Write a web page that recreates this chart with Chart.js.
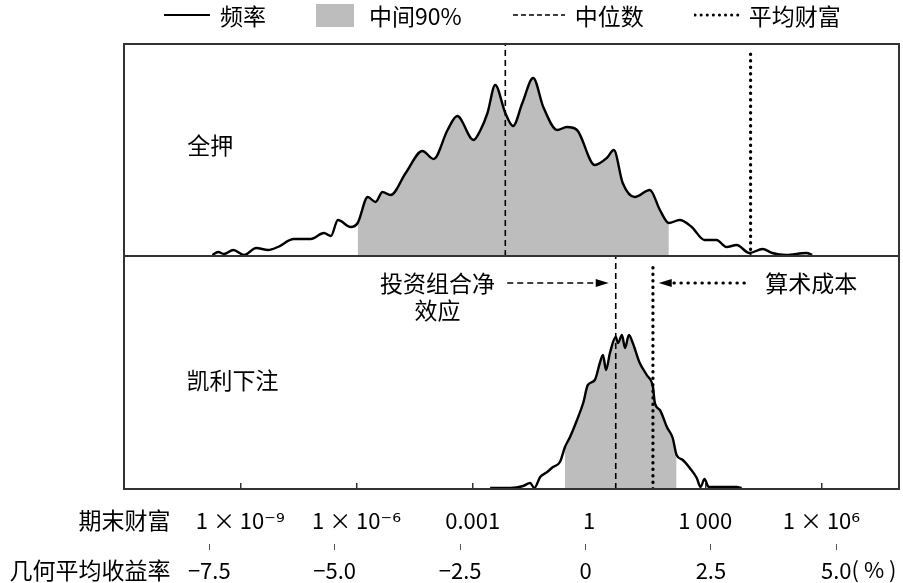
<!DOCTYPE html>
<html>
<head>
<meta charset="utf-8">
<script src="https://cdn.jsdelivr.net/npm/chart.js@4.4.1/dist/chart.umd.min.js"></script>
<style>
  html, body { margin: 0; padding: 0; background: #fff; }
  #wrap { position: relative; width: 903px; height: 583px; }
  #legend { position: absolute; left: 163px; top: 1px; height: 28px; display: flex; align-items: center;
            gap: 50px; font: 23px 'Noto Sans CJK SC', sans-serif; color: #000; }
  .item { display: flex; align-items: center; }
  .item svg { margin-right: 9px; }
</style>
</head>
<body>
<div id="wrap">
  <canvas id="chart" width="903" height="583"></canvas>
  <div id="legend"></div>
</div>
<script>
// x axis: log10 of terminal wealth; second axis: geometric mean return (%)
const wealthTicks = [-9, -6, -3, 0, 3, 6];
const wealthLabels = ['1 × 10⁻⁹', '1 × 10⁻⁶', '0.001', '1', '1 000', '1 × 10⁶'];
const returnTicks = [-7.5, -5, -2.5, 0, 2.5, 5];
const returnLabels = ['−7.5', '−5.0', '−2.5', '0', '2.5', '5.0'];

// 全押 (all in)
const allInX = [-9.72, -9.57, -9.42, -9.18, -8.90, -8.59, -8.28, -8.03, -7.62, -7.18, -6.84, -6.66,
  -6.48, -6.15, -5.97, -5.71, -5.51, -5.33, -5.12, -4.73, -4.30, -4.01, -3.65, -3.40, -2.98, -2.80,
  -2.62, -2.42, -2.16, -1.96, -1.72, -1.44, -1.18, -0.82, -0.57, -0.31, 0.15, 0.46, 0.64, 0.87,
  1.18, 1.57, 1.83, 2.06, 2.34, 2.65, 2.98, 3.29, 3.55, 3.81, 4.14, 4.48, 4.73, 5.09, 5.61, 5.76];
const allInFreq = [1, 4, 2, 6, 1, 8, 6, 9, 17, 17, 23, 20,
  36, 29, 33, 59, 54, 64, 61, 83, 105, 97, 126, 140, 116, 126,
  143, 171, 143, 130, 153, 178, 149, 126, 129, 126, 91, 98, 106, 73,
  59, 66, 46, 33, 36, 29, 16, 16, 9, 11, 3, 7, 3, 1, 3, 1];
const allInBand = [-5.97, 2.06];
const allInMedian = -2.16;
const allInMean = 4.17;
const allInMax = 212;

// 凯利下注 (Kelly bet)
const kellyX = [-2.55, -2.03, -1.70, -1.52, -1.41, -1.26, -1.08, -0.93, -0.75, -0.62, -0.49, -0.31,
  -0.15, -0.03, 0.15, 0.28, 0.36, 0.44, 0.54, 0.69, 0.75, 0.85, 0.93, 1.03, 1.13, 1.31, 1.49,
  1.65, 1.70, 1.83, 2.01, 2.16, 2.26, 2.42, 2.60, 2.78, 2.88, 2.98, 3.09, 3.45, 3.81, 3.94];
const kellyFreq = [1, 1, 3, 6, 1, 12, 17, 22, 27, 42, 52, 69,
  86, 104, 109, 126, 134, 119, 136, 152, 146, 154, 141, 154, 146, 126, 114,
  102, 86, 79, 62, 51, 34, 29, 21, 11, 2, 10, 2, 2, 2, 1];
const kellyBand = [-0.62, 2.26];
const kellyMedian = 0.69;
const kellyMean = 1.65;
const kellyMax = 233;

const legendNames = ['频率', '中间90%', '中位数', '平均财富'];
const legendKinds = ['solid', 'band', 'dashed', 'dotted'];

const FONT = "'Noto Sans CJK SC', 'DejaVu Sans', sans-serif";
const INK = '#000';
const BAND = '#bdbdbd';

function points(xs, ys) {
  return xs.map((x, i) => ({ x: x, y: ys[i] }));
}
function inBand(pts, band) {
  return pts.filter(p => p.x >= band[0] && p.x <= band[1]);
}

const allInPts = points(allInX, allInFreq);
const kellyPts = points(kellyX, kellyFreq);

function curve(data, axis) {
  return { data: data, yAxisID: axis, borderColor: INK, borderWidth: 2.4, pointRadius: 0,
           cubicInterpolationMode: 'monotone', fill: false };
}
function band(data, axis) {
  return { data: data, yAxisID: axis, borderWidth: 0, borderColor: 'rgba(0,0,0,0)', backgroundColor: BAND,
           pointRadius: 0, cubicInterpolationMode: 'monotone', fill: 'origin' };
}
function vline(x, top, axis, dotted) {
  return { data: [{ x: x, y: 0 }, { x: x, y: top }], yAxisID: axis, borderColor: INK,
           borderWidth: dotted ? 3.2 : 1.6, borderDash: dotted ? [0.5, 6] : [6, 4],
           borderCapStyle: dotted ? 'round' : 'butt', pointRadius: 0, fill: false };
}

// text notes: [text, x value, y value, y axis, align]
const notes = [
  ['全押', -10.37, 111, 'yTop', 'left'],
  ['凯利下注', -10.39, 109, 'yBot', 'left'],
  ['投资组合净', -3.91, 206, 'yBot', 'center'],
  ['效应', -3.91, 179, 'yBot', 'center'],
  ['算术成本', 4.55, 206, 'yBot', 'left']
];
// arrows: [from x, to x, y value, dotted]
const arrows = [
  [-2.11, 0.51, 206, false],
  [4.01, 1.80, 206, true]
];

function drawArrow(ctx, x1, x2, y, dotted) {
  const dir = x2 > x1 ? 1 : -1;
  ctx.save();
  ctx.strokeStyle = INK; ctx.fillStyle = INK;
  ctx.lineWidth = dotted ? 3 : 1.5;
  ctx.lineCap = dotted ? 'round' : 'butt';
  ctx.setLineDash(dotted ? [0.5, 6.5] : [6, 4]);
  ctx.beginPath();
  ctx.moveTo(x1, y);
  ctx.lineTo(x2 - dir * 10, y);
  ctx.stroke();
  ctx.setLineDash([]);
  ctx.beginPath();
  ctx.moveTo(x2, y);
  ctx.lineTo(x2 - dir * 13, y - 4);
  ctx.lineTo(x2 - dir * 13, y + 4);
  ctx.closePath();
  ctx.fill();
  ctx.restore();
}

const decor = {
  id: 'decor',
  afterDatasetsDraw(chart) {
    const { ctx, chartArea: a, scales } = chart;
    const { x, x2, yTop, yBot } = scales;
    ctx.save();
    // panel frames
    ctx.strokeStyle = '#333';
    ctx.lineWidth = 2;
    ctx.strokeRect(a.left, yTop.top, a.right - a.left, yTop.bottom - yTop.top);
    ctx.strokeRect(a.left, yBot.top, a.right - a.left, yBot.bottom - yBot.top);
    // notes
    ctx.fillStyle = INK;
    ctx.font = '23px ' + FONT;
    ctx.textBaseline = 'middle';
    notes.forEach(([t, vx, vy, ax, al]) => {
      ctx.textAlign = al;
      ctx.fillText(t, x.getPixelForValue(vx), scales[ax].getPixelForValue(vy));
    });
    arrows.forEach(([f, t, vy, dotted]) => {
      drawArrow(ctx, x.getPixelForValue(f), x.getPixelForValue(t), yBot.getPixelForValue(vy), dotted);
    });
    // axis row titles
    ctx.textAlign = 'right';
    ctx.fillText('期末财富', x.getPixelForValue(-10.8), x.top + 31);
    ctx.fillText('几何平均收益率', x.getPixelForValue(-10.8), x2.top + 26);
    // percent unit after the last return label
    ctx.font = '22px ' + FONT;
    ctx.textAlign = 'left';
    const last = returnTicks[returnTicks.length - 1];
    const half = ctx.measureText(returnLabels[returnLabels.length - 1]).width / 2;
    ctx.fillText('( % )', x2.getPixelForValue(last) + half, x2.top + 26);
    ctx.restore();
  }
};

const tickFont = { family: FONT, size: 22, lineHeight: 1.2 };

new Chart(document.getElementById('chart'), {
  type: 'line',
  data: {
    datasets: [
      curve(allInPts, 'yTop'),
      curve(kellyPts, 'yBot'),
      vline(allInMedian, allInMax, 'yTop', false),
      vline(allInMean, 206, 'yTop', true),
      vline(kellyMedian, kellyMax, 'yBot', false),
      vline(kellyMean, 227, 'yBot', true),
      band(inBand(allInPts, allInBand), 'yTop'),
      band(inBand(kellyPts, kellyBand), 'yBot')
    ]
  },
  options: {
    responsive: false,
    animation: false,
    layout: { padding: { left: 124, right: 4, top: 44, bottom: 0 } },
    plugins: { legend: { display: false }, tooltip: { enabled: false } },
    scales: {
      x: {
        type: 'linear', position: 'bottom', min: -12, max: 8, weight: 1, z: 1,
        afterBuildTicks: s => { s.ticks = wealthTicks.map(v => ({ value: v })); },
        afterFit: s => { s.height = 55; },
        grid: { drawOnChartArea: false, drawTicks: true, tickLength: -6, color: '#333', lineWidth: 1.5 },
        border: { display: false },
        ticks: { callback: (v, i) => wealthLabels[i], font: tickFont, color: INK, padding: 24,
                 maxRotation: 0, autoSkip: false }
      },
      x2: {
        type: 'linear', position: 'bottom', min: -9.2, max: 6.25, weight: 2, z: 1,
        afterBuildTicks: s => { s.ticks = returnTicks.map(v => ({ value: v })); },
        afterFit: s => { s.height = 39; },
        grid: { drawOnChartArea: false, drawTicks: true, tickLength: 6, color: '#555', lineWidth: 1 },
        border: { display: false },
        ticks: { callback: (v, i) => returnLabels[i], font: tickFont, color: INK, padding: 7,
                 maxRotation: 0, autoSkip: false }
      },
      yBot: {
        type: 'linear', position: 'left', stack: 'panels', stackWeight: kellyMax, weight: 1,
        min: 0, max: kellyMax, afterFit: s => { s.width = 0; },
        grid: { display: false }, border: { display: false }, ticks: { display: false }
      },
      yTop: {
        type: 'linear', position: 'left', stack: 'panels', stackWeight: allInMax, weight: 2,
        min: 0, max: allInMax, afterFit: s => { s.width = 0; },
        grid: { display: false }, border: { display: false }, ticks: { display: false }
      }
    }
  },
  plugins: [decor]
});

// legend
function sample(kind) {
  if (kind === 'band') {
    return '<svg width="38" height="23" style="margin-right:15px"><rect width="38" height="23" fill="' + BAND + '"/></svg>';
  }
  const w = kind === 'solid' ? 48 : (kind === 'dashed' ? 54 : 46);
  let extra = '';
  if (kind === 'dashed') extra = 'stroke-dasharray="5 3"';
  if (kind === 'dotted') extra = 'stroke-dasharray="0.1 6" stroke-linecap="round"';
  const sw = kind === 'dotted' ? 3 : (kind === 'dashed' ? 1.5 : 2);
  return '<svg width="' + w + '" height="6"><line x1="1" y1="3" x2="' + (w - 1) + '" y2="3" stroke="' + INK +
         '" stroke-width="' + sw + '" ' + extra + '/></svg>';
}
document.getElementById('legend').innerHTML = legendNames.map((n, i) =>
  '<div class="item">' + sample(legendKinds[i]) + '<span>' + n + '</span></div>').join('');
</script>
</body>
</html>
